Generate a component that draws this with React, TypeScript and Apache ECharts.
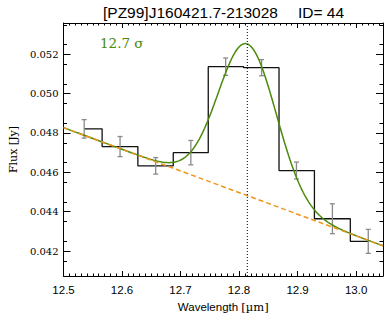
import React, { useEffect, useRef } from "react";
import * as echarts from "echarts";

// Binned spectrum (bin centres in µm, flux in Jy, 1-sigma errors)
const binCenters = [12.5353, 12.5966, 12.6575, 12.7176, 12.7771, 12.8385, 12.8981, 12.9595, 13.0208];
const binFlux = [0.04821, 0.04731, 0.04633, 0.047, 0.05137, 0.05132, 0.04609, 0.04364, 0.04249];
const binErr = [0.00047, 0.00051, 0.00042, 0.00062, 0.00044, 0.00041, 0.00043, 0.00076, 0.00061];

// Fit: linear continuum + Gaussian line
const contIntercept = 0.04827; // flux at 12.5 µm
const contSlope = -0.011; // Jy per µm
const lineCenter = 12.8141;
const lineSigma = 0.0497;
const lineAmp = 0.00771;

// Axis ranges and ticks
const xMin = 12.5;
const xMax = 13.046;
const yMin = 0.04073;
const yMax = 0.05359;
const xMajor = [12.5, 12.6, 12.7, 12.8, 12.9, 13.0];
const yMajor = [0.042, 0.044, 0.046, 0.048, 0.05, 0.052];
const xMinor: number[] = [];
for (let i = 0; i <= 54; i++) if (i % 10 !== 0) xMinor.push(+(12.5 + i * 0.01).toFixed(3));
const yMinor: number[] = [];
for (let i = 0; i <= 26; i++) if (i % 4 !== 0) yMinor.push(+(0.041 + i * 0.0005).toFixed(5));

const titleLeft = "[PZ99]J160421.7-213028";
const titleRight = "ID= 44";
const sigmaLabel = "12.7 σ";

export default function App() {
  const ref = useRef<HTMLDivElement>(null);
  useEffect(() => {
    if (!ref.current) return;
    const chart = echarts.init(ref.current, null, { renderer: "svg" });
    const cont = (x: number) => contIntercept + contSlope * (x - xMin);
    const fitData: number[][] = [];
    const N = 240;
    for (let i = 0; i <= N; i++) {
      const x = xMin + ((xMax - xMin) * i) / N;
      fitData.push([x, cont(x) + lineAmp * Math.exp(-((x - lineCenter) ** 2) / (2 * lineSigma * lineSigma))]);
    }
    const contData = [
      [xMin, cont(xMin)],
      [xMax, cont(xMax)],
    ];
    const stepData = binCenters.map((x, i) => [x, binFlux[i]]);
    const errData = binCenters.map((x, i) => [x, binFlux[i], binErr[i]]);

    const axisLine = { show: true, lineStyle: { color: "#000", width: 1 } };
    const mkX = (pos: string, vals: number[], len: number, labels: boolean, line: boolean) => ({
      type: "value",
      position: pos,
      min: xMin,
      max: xMax,
      axisLine: line ? axisLine : { show: false },
      splitLine: { show: false },
      axisTick: { show: true, inside: true, length: len, customValues: vals, lineStyle: { color: "#000", width: 1 } },
      axisLabel: labels
        ? {
            show: true,
            customValues: vals,
            formatter: (v: number) => v.toFixed(1),
            fontFamily: "Liberation Sans",
            fontSize: 11.5,
            color: "#000",
            margin: 8,
          }
        : { show: false },
    });
    const mkY = (pos: string, vals: number[], len: number, labels: boolean, line: boolean) => ({
      type: "value",
      position: pos,
      min: yMin,
      max: yMax,
      axisLine: line ? axisLine : { show: false },
      splitLine: { show: false },
      axisTick: { show: true, inside: true, length: len, customValues: vals, lineStyle: { color: "#000", width: 1 } },
      axisLabel: labels
        ? {
            show: true,
            customValues: vals,
            formatter: (v: number) => v.toFixed(3),
            fontFamily: "DejaVu Serif",
            fontSize: 10,
            color: "#000",
            margin: 5,
          }
        : { show: false },
    });

    const x0: any = mkX("bottom", xMajor, 5, true, true);
    x0.name = "{s|Wavelength }{r|[µm]}";
    x0.nameLocation = "middle";
    x0.nameGap = 20;
    x0.nameTextStyle = {
      color: "#000",
      rich: {
        s: { fontFamily: "Liberation Sans", fontSize: 11.5, color: "#000" },
        r: { fontFamily: "DejaVu Serif", fontSize: 11.5, color: "#000" },
      },
    };
    const y0: any = mkY("left", yMajor, 7, true, true);
    y0.name = "Flux [Jy]";
    y0.nameLocation = "middle";
    y0.nameGap = 36;
    y0.nameTextStyle = { fontFamily: "DejaVu Serif", fontSize: 11, color: "#000" };

    chart.setOption({
      animation: false,
      backgroundColor: "#fff",
      grid: { left: 63, right: 2, top: 23, bottom: 42, containLabel: false },
      xAxis: [x0, mkX("bottom", xMinor, 2.5, false, false), mkX("top", xMajor, 5, false, true), mkX("top", xMinor, 2.5, false, false)],
      yAxis: [y0, mkY("left", yMinor, 3.5, false, false), mkY("right", yMajor, 7, false, true), mkY("right", yMinor, 3.5, false, false)],
      series: [
        {
          type: "line",
          step: "middle",
          data: stepData,
          symbol: "none",
          lineStyle: { color: "#111", width: 1.3 },
          z: 2,
        },
        {
          type: "custom",
          data: errData,
          z: 3,
          renderItem: (params: any, api: any) => {
            const x = api.value(0);
            const y = api.value(1);
            const e = api.value(2);
            const top = api.coord([x, y + e]);
            const bot = api.coord([x, y - e]);
            const cap = 2.5;
            const st = { stroke: "#8a8a8a", lineWidth: 1.3 };
            return {
              type: "group",
              children: [
                { type: "line", shape: { x1: top[0], y1: top[1], x2: bot[0], y2: bot[1] }, style: st },
                { type: "line", shape: { x1: top[0] - cap, y1: top[1], x2: top[0] + cap, y2: top[1] }, style: st },
                { type: "line", shape: { x1: bot[0] - cap, y1: bot[1], x2: bot[0] + cap, y2: bot[1] }, style: st },
              ],
            };
          },
        },
        {
          type: "line",
          data: fitData,
          symbol: "none",
          lineStyle: { color: "#4a8a0b", width: 1.5 },
          z: 4,
        },
        {
          type: "line",
          data: contData,
          symbol: "none",
          lineStyle: { color: "#ee961c", width: 1.5, type: [5, 3] },
          z: 5,
        },
        {
          type: "line",
          data: [
            [lineCenter, yMin],
            [lineCenter, yMax],
          ],
          symbol: "none",
          lineStyle: { color: "#000", width: 1, type: [1, 2] },
          z: 6,
        },
      ],
      graphic: [
        {
          type: "text",
          left: 103,
          top: 4,
          style: { text: titleLeft, fontFamily: "Liberation Sans", fontSize: 15.5, fill: "#000" },
        },
        {
          type: "text",
          left: 298,
          top: 4,
          style: { text: titleRight, fontFamily: "Liberation Sans", fontSize: 15.5, fill: "#000" },
        },
        {
          type: "text",
          left: 100,
          top: 36,
          style: { text: sigmaLabel, fontFamily: "DejaVu Serif", fontSize: 13.5, fill: "#4a8a0b" },
        },
      ],
    });
    return () => chart.dispose();
  }, []);
  return <div ref={ref} style={{ width: 385, height: 318, position: "absolute", left: 0, top: 0 }} />;
}
